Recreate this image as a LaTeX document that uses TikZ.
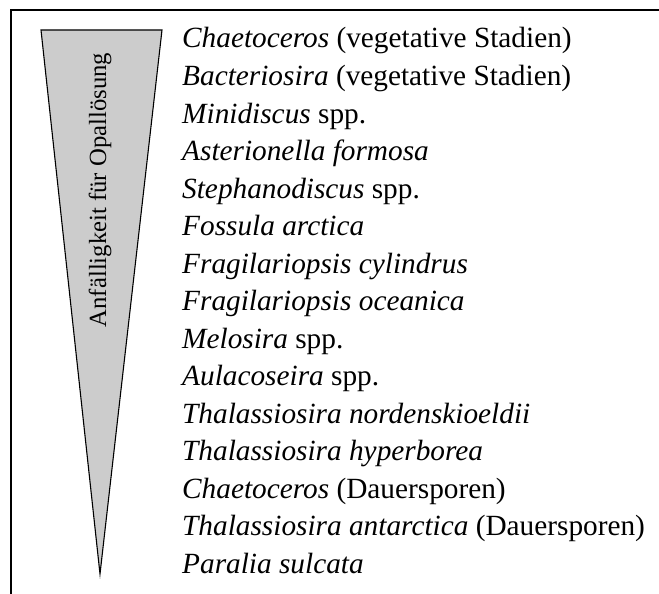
\documentclass[tikz,border=0pt]{standalone}
\usepackage{fontspec}
\setmainfont{Liberation Serif}
\begin{document}
\begin{tikzpicture}[x=1pt,y=-1pt,
  frameline/.style={line width=1.4pt,black},
  wedge/.style={draw=black,line width=1.1pt,fill=black!20},
  species/.style={anchor=base west,inner sep=0pt,font=\fontsize{29.3}{35}\selectfont},
  axislabel/.style={rotate=90,inner sep=0pt,font=\fontsize{24.7}{30}\selectfont}]
\useasboundingbox (0,0) rectangle (659,594);
% frame (top and left edges)
\coordinate (fl) at (11,594);
\coordinate (fc) at (11,10);
\coordinate (fr) at (659,10);
\draw[frameline] (fl) -- (fc) -- (fr);
% tapering wedge
\coordinate (wl) at (41,30);
\coordinate (wr) at (162,30);
\coordinate (wt) at (100,574);
\draw[wedge] (wl) -- (wr) -- (wt) -- cycle;
\node[axislabel] (lab) at (100,190) {Anfälligkeit für Opallösung};
% species list
\foreach \i/\t in {
  0/{\textit{Chaetoceros} (vegetative Stadien)},
  1/{\textit{Bacteriosira} (vegetative Stadien)},
  2/{\textit{Minidiscus} spp.},
  3/{\textit{Asterionella formosa}},
  4/{\textit{Stephanodiscus} spp.},
  5/{\textit{Fossula arctica}},
  6/{\textit{Fragilariopsis cylindrus}},
  7/{\textit{Fragilariopsis oceanica}},
  8/{\textit{Melosira} spp.},
  9/{\textit{Aulacoseira} spp.},
  10/{\textit{Thalassiosira nordenskioeldii}},
  11/{\textit{Thalassiosira hyperborea}},
  12/{\textit{Chaetoceros} (Dauersporen)},
  13/{\textit{Thalassiosira antarctica} (Dauersporen)},
  14/{\textit{Paralia sulcata}}}
  \node[species] (s\i) at (182,48+37.5*\i) {\t};
\end{tikzpicture}
\end{document}
